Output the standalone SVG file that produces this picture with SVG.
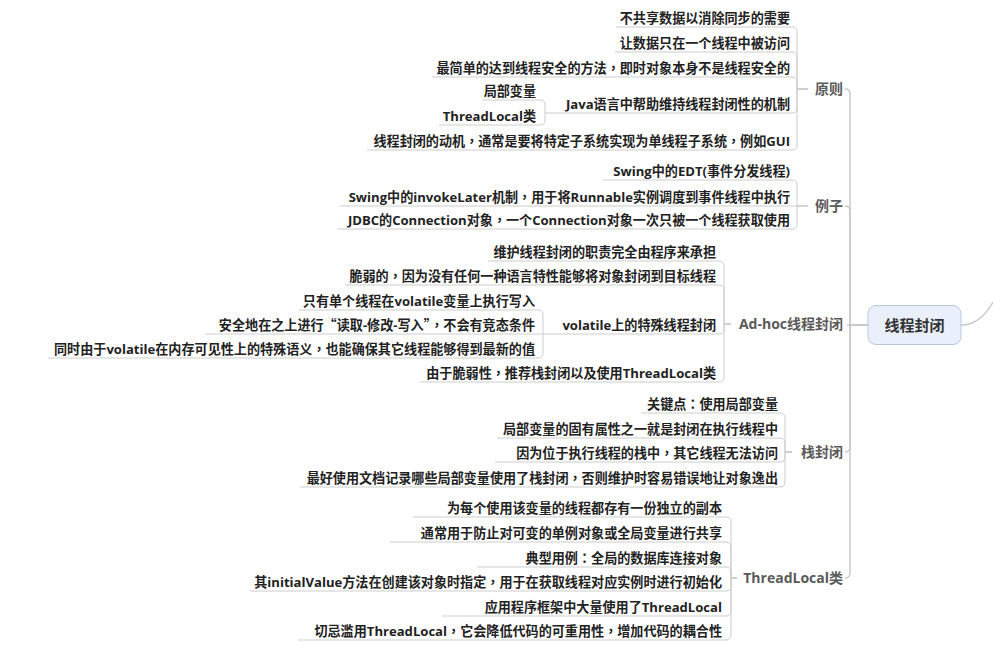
<svg xmlns="http://www.w3.org/2000/svg" width="993" height="659" viewBox="0 0 993 659">
<style>
.leaf{font-family:"Open Sans","Noto Sans CJK SC",sans-serif;font-weight:bold;font-size:13.1px;fill:#222;text-anchor:end}
.sub{font-family:"Open Sans","Noto Sans CJK SC",sans-serif;font-weight:bold;font-size:14px;fill:#5a5a5a;text-anchor:end}
.root{font-family:"Open Sans","Noto Sans CJK SC",sans-serif;font-weight:bold;font-size:15px;fill:#333;text-anchor:middle}
.cj{font-family:"Noto Sans CJK SC",sans-serif}
.p{font-family:"Noto Sans CJK TC",sans-serif}
.ln{fill:none;stroke:#cdcdcd;stroke-width:1}
.sp{fill:none;stroke:#c8c8c8;stroke-width:1.4}
</style>
<rect width="993" height="659" fill="#fff"/>
<g id="connectors">
<path class="sp" d="M961 325 Q980 325 993 302"/>
<path class="sp" d="M868 325 H850 V94 Q850 89 845 89"/>
<path class="sp" d="M868 325 H850 V211 Q850 206 845 206"/>
<path class="sp" d="M868 325 H847"/>
<path class="sp" d="M868 325 H850 V447 Q850 452 845 452"/>
<path class="sp" d="M868 325 H850 V573 Q850 578 845 578"/>
<path class="ln" d="M808 89 H797 V32 Q797 27 792 27 H616"/>
<path class="ln" d="M808 89 H797 V57 Q797 52 792 52 H615"/>
<path class="ln" d="M808 89 H797 V82 Q797 77 792 77 H432"/>
<path class="ln" d="M808 89 H797 V108 Q797 113 792 113 H545"/>
<path class="ln" d="M808 89 H797 V145 Q797 150 792 150 H367"/>
<path class="ln" d="M545 113 V105 Q545 100 540 100 H482"/>
<path class="ln" d="M545 113 V120 Q545 125 540 125 H439"/>
<path class="ln" d="M808 206 H797 V185 Q797 180 792 180 H603"/>
<path class="ln" d="M808 206 H340"/>
<path class="ln" d="M808 206 H797 V224 Q797 229 792 229 H338"/>
<path class="ln" d="M731 324 H724 V266 Q724 261 719 261 H488"/>
<path class="ln" d="M731 324 H724 V290 Q724 285 719 285 H345"/>
<path class="ln" d="M731 324 H724 V329 Q724 334 719 334 H543"/>
<path class="ln" d="M731 324 H724 V377 Q724 382 719 382 H420"/>
<path class="ln" d="M543 334 V315 Q543 310 538 310 H299"/>
<path class="ln" d="M543 334 H205"/>
<path class="ln" d="M543 334 V353 Q543 358 538 358 H48"/>
<path class="ln" d="M792 452 H785 V418 Q785 413 780 413 H641"/>
<path class="ln" d="M792 452 H785 V443 Q785 438 780 438 H497"/>
<path class="ln" d="M792 452 H785 V457 Q785 462 780 462 H495"/>
<path class="ln" d="M792 452 H785 V482 Q785 487 780 487 H300"/>
<path class="ln" d="M737 578 H731 V522 Q731 517 726 517 H413"/>
<path class="ln" d="M737 578 H731 V547 Q731 542 726 542 H390"/>
<path class="ln" d="M737 578 H731 V572 Q731 567 726 567 H477"/>
<path class="ln" d="M737 578 H731 V586 Q731 591 726 591 H250"/>
<path class="ln" d="M737 578 H731 V611 Q731 616 726 616 H442"/>
<path class="ln" d="M737 578 H731 V635 Q731 640 726 640 H298"/>
</g>
<g id="root">
<rect x="868" y="305.5" width="93" height="39" rx="8" fill="#e9f0fb" stroke="#b9c7da" stroke-width="1"/>
<text class="root" x="914.5" y="330.5">线程封闭</text>
</g>
<g id="yuanze"><text class="sub" x="843" y="94">原则</text></g>
<g id="yuanze-1"><text class="leaf" x="790" y="22.5">不共享数据以消除同步的需要</text></g>
<g id="yuanze-2"><text class="leaf" x="790" y="47.5">让数据只在一个线程中被访问</text></g>
<g id="yuanze-3"><text class="leaf" x="790" y="72.5">最简单的达到线程安全的方法<tspan class="p">，</tspan>即时对象本身不是线程安全的</text></g>
<g id="yuanze-4"><text class="leaf" x="790" y="108.5">Java语言中帮助维持线程封闭性的机制</text></g>
<g id="yuanze-4a"><text class="leaf" x="536" y="95.5">局部变量</text></g>
<g id="yuanze-4b"><text class="leaf" x="536" y="120.5">ThreadLocal类</text></g>
<g id="yuanze-5"><text class="leaf" x="790" y="145.5">线程封闭的动机<tspan class="p">，</tspan>通常是要将特定子系统实现为单线程子系统<tspan class="p">，</tspan>例如GUI</text></g>
<g id="lizi"><text class="sub" x="843" y="211">例子</text></g>
<g id="lizi-1"><text class="leaf" x="790" y="175.5">Swing中的EDT(事件分发线程)</text></g>
<g id="lizi-2"><text class="leaf" x="790" y="201.5">Swing中的invokeLater机制<tspan class="p">，</tspan>用于将Runnable实例调度到事件线程中执行</text></g>
<g id="lizi-3"><text class="leaf" x="790" y="224.5">JDBC的Connection对象<tspan class="p">，</tspan>一个Connection对象一次只被一个线程获取使用</text></g>
<g id="adhoc"><text class="sub" x="843" y="329">Ad-hoc线程封闭</text></g>
<g id="adhoc-1"><text class="leaf" x="716" y="256.5">维护线程封闭的职责完全由程序来承担</text></g>
<g id="adhoc-2"><text class="leaf" x="716" y="280.5">脆弱的<tspan class="p">，</tspan>因为没有任何一种语言特性能够将对象封闭到目标线程</text></g>
<g id="adhoc-3"><text class="leaf" x="716" y="329.5">volatile上的特殊线程封闭</text></g>
<g id="adhoc-3a"><text class="leaf" x="535" y="305.5">只有单个线程在volatile变量上执行写入</text></g>
<g id="adhoc-3b"><text class="leaf" x="535" y="329.5">安全地在之上进行<tspan class="p">“</tspan>读取-修改-写入<tspan class="p">”</tspan><tspan class="p">，</tspan>不会有竞态条件</text></g>
<g id="adhoc-3c"><text class="leaf" x="535" y="353.5">同时由于volatile在内存可见性上的特殊语义<tspan class="p">，</tspan>也能确保其它线程能够得到最新的值</text></g>
<g id="adhoc-4"><text class="leaf" x="716" y="377.5">由于脆弱性<tspan class="p">，</tspan>推荐栈封闭以及使用ThreadLocal类</text></g>
<g id="zhan"><text class="sub" x="843" y="457">栈封闭</text></g>
<g id="zhan-1"><text class="leaf" x="778" y="408.5">关键点<tspan class="p">：</tspan>使用局部变量</text></g>
<g id="zhan-2"><text class="leaf" x="778" y="433.5">局部变量的固有属性之一就是封闭在执行线程中</text></g>
<g id="zhan-3"><text class="leaf" x="778" y="457.5">因为位于执行线程的栈中<tspan class="p">，</tspan>其它线程无法访问</text></g>
<g id="zhan-4"><text class="leaf" x="778" y="482.5">最好使用文档记录哪些局部变量使用了栈封闭<tspan class="p">，</tspan>否则维护时容易错误地让对象逸出</text></g>
<g id="tl"><text class="sub" x="843" y="583">ThreadLocal类</text></g>
<g id="tl-1"><text class="leaf" x="722" y="512.5">为每个使用该变量的线程都存有一份独立的副本</text></g>
<g id="tl-2"><text class="leaf" x="722" y="537.5">通常用于防止对可变的单例对象或全局变量进行共享</text></g>
<g id="tl-3"><text class="leaf" x="722" y="562.5">典型用例<tspan class="p">：</tspan>全局的数据库连接对象</text></g>
<g id="tl-4"><text class="leaf" x="722" y="586.5">其initialValue方法在创建该对象时指定<tspan class="p">，</tspan>用于在获取线程对应实例时进行初始化</text></g>
<g id="tl-5"><text class="leaf" x="722" y="611.5">应用程序框架中大量使用了ThreadLocal</text></g>
<g id="tl-6"><text class="leaf" x="722" y="635.5">切忌滥用ThreadLocal<tspan class="p">，</tspan>它会降低代码的可重用性<tspan class="p">，</tspan>增加代码的耦合性</text></g>
</svg>
